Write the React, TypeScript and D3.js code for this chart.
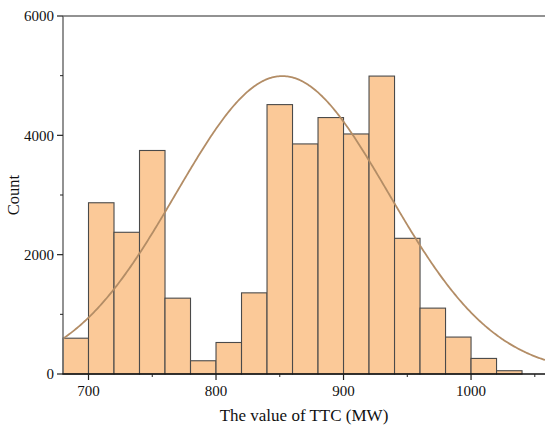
import React from "react";
import * as d3 from "d3";

// Histogram of TTC values: bins of 20 MW starting at 680 MW
const binStarts = [680, 700, 720, 740, 760, 780, 800, 820, 840, 860, 880, 900, 920, 940, 960, 980, 1000, 1020];
const binWidth = 20;
const counts = [600, 2870, 2375, 3746, 1271, 222, 528, 1360, 4515, 3856, 4298, 4023, 4993, 2274, 1104, 619, 261, 55];

// Fitted normal curve parameters
const fitMean = 852;
const fitSigma = 83.3;
const fitPeak = 4993;

const xMajorTicks = [700, 800, 900, 1000];
const xMinorTicks = [750, 850, 950, 1050];
const yMajorTicks = [0, 2000, 4000, 6000];
const yMinorTicks = [1000, 3000, 5000];

const W = 545;
const H = 425;
const left = 63;
const right = 545;
const top = 16;
const bottom = 374;

export default function App() {
  const x = d3.scaleLinear().domain([680, 1058]).range([left, right]);
  const y = d3.scaleLinear().domain([0, 6000]).range([bottom, top]);

  const curvePts = d3.range(680, 1058.01, 1).map((v) => [v, fitPeak * Math.exp(-((v - fitMean) ** 2) / (2 * fitSigma * fitSigma))] as [number, number]);
  const line = d3
    .line<[number, number]>()
    .x((d) => x(d[0]))
    .y((d) => y(d[1]));

  const font = "'Liberation Serif', 'Times New Roman', serif";

  return (
    <svg width={W} height={H} style={{ position: "absolute", left: 0, top: 0, background: "#fff" }} fontFamily={font}>
      {/* bars */}
      {binStarts.map((b, i) => (
        <rect
          key={b}
          x={x(b)}
          y={y(counts[i])}
          width={x(b + binWidth) - x(b)}
          height={y(0) - y(counts[i])}
          fill="#FBC998"
          stroke="#4a4a4a"
          strokeWidth={1.1}
        />
      ))}
      {/* fitted curve */}
      <path d={line(curvePts) || ""} fill="none" stroke="#B38D66" strokeWidth={1.8} />

      {/* frame */}
      <line x1={left} x2={right} y1={top} y2={top} stroke="#6e6e6e" strokeWidth={1.5} />
      <line x1={left} x2={left} y1={top} y2={bottom} stroke="#6e6e6e" strokeWidth={1.5} />
      <line x1={left - 0.5} x2={right} y1={bottom} y2={bottom} stroke="#111" strokeWidth={1.5} />

      {/* y ticks */}
      {yMajorTicks.map((t) => (
        <g key={t}>
          <line x1={left - 6} x2={left} y1={y(t)} y2={y(t)} stroke="#222" strokeWidth={1.2} />
          <text x={left - 9} y={y(t)} dy="0.35em" textAnchor="end" fontSize={15} fill="#111">
            {t}
          </text>
        </g>
      ))}
      {yMinorTicks.map((t) => (
        <line key={t} x1={left - 3} x2={left} y1={y(t)} y2={y(t)} stroke="#222" strokeWidth={1} />
      ))}

      {/* x ticks */}
      {xMajorTicks.map((t) => (
        <g key={t}>
          <line x1={x(t)} x2={x(t)} y1={bottom} y2={bottom + 6} stroke="#222" strokeWidth={1.2} />
          <text x={x(t)} y={bottom + 22} textAnchor="middle" fontSize={15} fill="#111">
            {t}
          </text>
        </g>
      ))}
      {xMinorTicks.map((t) => (
        <line key={t} x1={x(t)} x2={x(t)} y1={bottom} y2={bottom + 3} stroke="#222" strokeWidth={1} />
      ))}

      {/* axis titles */}
      <text x={304} y={bottom + 47} textAnchor="middle" fontSize={17} fill="#111">
        The value of TTC (MW)
      </text>
      <text transform={`translate(19, ${(top + bottom) / 2}) rotate(-90)`} textAnchor="middle" fontSize={16.5} fill="#111">
        Count
      </text>
    </svg>
  );
}
